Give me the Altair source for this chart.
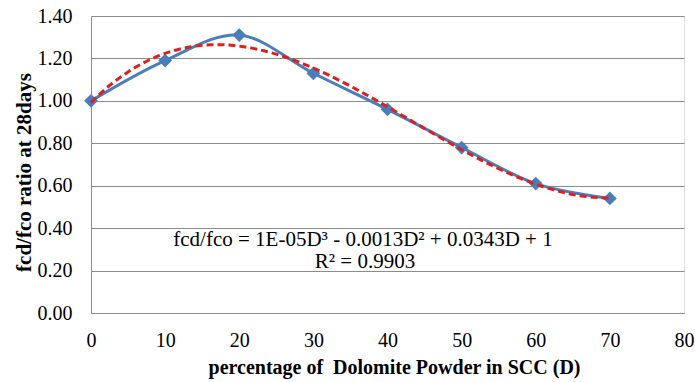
import altair as alt
import pandas as pd

# Data
dolomite_pct = [0, 10, 20, 30, 40, 50, 60, 70]
ratio = [1.00, 1.19, 1.31, 1.13, 0.96, 0.78, 0.61, 0.54]

equation_text = "fcd/fco = 1E-05D³ - 0.0013D² + 0.0343D + 1"
r2_text = "R² = 0.9903"

df = pd.DataFrame({"D": dolomite_pct, "v": ratio})

FONT = "Liberation Serif"
BLUE = "#4A7EBB"
RED = "#DC2020"
GRID = "#8C8C8C"

x_enc = alt.X(
    "D:Q",
    scale=alt.Scale(domain=[0, 80], nice=False),
    axis=alt.Axis(
        values=[0, 10, 20, 30, 40, 50, 60, 70, 80],
        title="percentage of\u00a0 Dolomite Powder in SCC (D)",
        grid=False,
        ticks=False,
        labelFlush=False,
        domainColor=GRID,
        labelFont=FONT,
        labelFontSize=20,
        labelColor="#000000",
        labelBaseline="middle",
        labelPadding=27,
        titleFont=FONT,
        titleFontSize=20,
        titleFontWeight="bold",
        titleColor="#000000",
        titleX=303,
        titleY=54,
        titleAlign="center",
        titleBaseline="middle",
    ),
)
y_enc = alt.Y(
    "v:Q",
    scale=alt.Scale(domain=[0, 1.4], nice=False),
    axis=alt.Axis(
        values=[0, 0.2, 0.4, 0.6, 0.8, 1.0, 1.2, 1.4],
        format=".2f",
        title="fcd/fco ratio at 28days",
        grid=True,
        gridColor=GRID,
        gridWidth=1,
        ticks=False,
        labelFlush=False,
        domainColor=GRID,
        labelFont=FONT,
        labelFontSize=20,
        labelColor="#000000",
        labelPadding=19,
        titleFont=FONT,
        titleFontSize=21,
        titleFontWeight="bold",
        titleColor="#000000",
        titleX=-67,
        titleY=156,
        titleAlign="center",
        titleBaseline="middle",
        titleAngle=-90,
    ),
)

base = alt.Chart(df)

line = base.mark_line(color=BLUE, strokeWidth=3, interpolate="cardinal").encode(x=x_enc, y=y_enc)
points = base.mark_point(shape="diamond", filled=True, color=BLUE, size=190, opacity=1).encode(
    x="D:Q", y="v:Q"
)
trend = (
    base.transform_regression("D", "v", method="poly", order=3, extent=[0, 70])
    .mark_line(color=RED, strokeWidth=3, strokeDash=[7, 4], interpolate="monotone")
    .encode(x="D:Q", y="v:Q")
)

eq = alt.Chart(pd.DataFrame({"t": [equation_text]})).mark_text(
    font=FONT, fontSize=21, color="#000000", align="center", baseline="middle"
).encode(x=alt.value(272), y=alt.value(224), text="t:N")
r2 = alt.Chart(pd.DataFrame({"t": [r2_text]})).mark_text(
    font=FONT, fontSize=21, color="#000000", align="center", baseline="middle"
).encode(x=alt.value(274), y=alt.value(246), text="t:N")

chart = (
    alt.layer(line, points, trend, eq, r2)
    .properties(
        width=593,
        height=297,
        autosize=alt.AutoSizeParams(type="none"),
        padding={"left": 91, "top": 16, "right": 12, "bottom": 69},
    )
    .configure_view(stroke=None)
    .configure(font=FONT)
)

chart.save("out.html", embed_options={"renderer": "svg", "actions": False})
